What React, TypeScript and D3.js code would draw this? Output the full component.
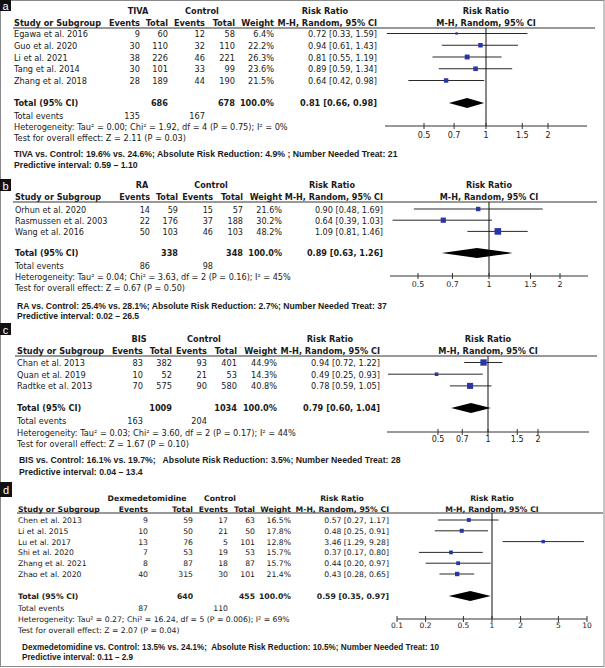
import React from "react";
import * as d3 from "d3";

// ---------- DATA ----------
const studiesA = ["Egawa et al. 2016", "Guo et al. 2020", "Li et al. 2021", "Tang et al. 2014", "Zhang et al. 2018"];
const expEventsA = [9, 30, 38, 30, 28];
const expTotalA = [60, 110, 226, 101, 189];
const ctlEventsA = [12, 32, 46, 33, 44];
const ctlTotalA = [58, 110, 221, 99, 190];
const weightA = [6.4, 22.2, 26.3, 23.6, 21.5];
const rrA = [0.72, 0.94, 0.81, 0.89, 0.64];
const loA = [0.33, 0.61, 0.55, 0.59, 0.42];
const hiA = [1.59, 1.43, 1.19, 1.34, 0.98];
const totalA = [686, 678, 135, 167, 0.81, 0.66, 0.98];
const ticksA = [0.5, 0.7, 1, 1.5, 2];

const studiesB = ["Orhun et al. 2020", "Rasmussen et al. 2003", "Wang et al. 2016"];
const expEventsB = [14, 22, 50];
const expTotalB = [59, 176, 103];
const ctlEventsB = [15, 37, 46];
const ctlTotalB = [57, 188, 103];
const weightB = [21.6, 30.2, 48.2];
const rrB = [0.9, 0.64, 1.09];
const loB = [0.48, 0.39, 0.81];
const hiB = [1.69, 1.03, 1.46];
const totalB = [338, 348, 86, 98, 0.89, 0.63, 1.26];
const ticksB = [0.5, 0.7, 1, 1.5, 2];

const studiesC = ["Chan et al. 2013", "Quan et al. 2019", "Radtke et al. 2013"];
const expEventsC = [83, 10, 70];
const expTotalC = [382, 52, 575];
const ctlEventsC = [93, 21, 90];
const ctlTotalC = [401, 53, 580];
const weightC = [44.9, 14.3, 40.8];
const rrC = [0.94, 0.49, 0.78];
const loC = [0.72, 0.25, 0.59];
const hiC = [1.22, 0.93, 1.05];
const totalC = [1009, 1034, 163, 204, 0.79, 0.6, 1.04];
const ticksC = [0.5, 0.7, 1, 1.5, 2];

const studiesD = ["Chen et al. 2013", "Li et al. 2015", "Lu et al. 2017", "Shi et al. 2020", "Zhang et al. 2021", "Zhao et al. 2020"];
const expEventsD = [9, 10, 13, 7, 8, 40];
const expTotalD = [59, 50, 76, 53, 87, 315];
const ctlEventsD = [17, 21, 5, 19, 18, 30];
const ctlTotalD = [63, 50, 101, 53, 87, 101];
const weightD = [16.5, 17.8, 12.8, 15.7, 15.7, 21.4];
const rrD = [0.57, 0.48, 3.46, 0.37, 0.44, 0.43];
const loD = [0.27, 0.25, 1.29, 0.17, 0.2, 0.28];
const hiD = [1.17, 0.91, 9.28, 0.8, 0.97, 0.65];
const totalD = [640, 455, 87, 110, 0.59, 0.35, 0.97];
const ticksD = [0.1, 0.2, 0.5, 1, 2, 5, 10];

const labels = ["a", "b", "c", "d"];
const groupNames = ["TIVA", "RA", "BIS", "Dexmedetomidine"];
const hetTexts = [
  "Heterogeneity: Tau² = 0.00; Chi² = 1.92, df = 4 (P = 0.75); I² = 0%",
  "Heterogeneity: Tau² = 0.04; Chi² = 3.63, df = 2 (P = 0.16); I² = 45%",
  "Heterogeneity: Tau² = 0.03; Chi² = 3.60, df = 2 (P = 0.17); I² = 44%",
  "Heterogeneity: Tau² = 0.27; Chi² = 16.24, df = 5 (P = 0.006); I² = 69%",
];
const testTexts = [
  "Test for overall effect: Z = 2.11 (P = 0.03)",
  "Test for overall effect: Z = 0.67 (P = 0.50)",
  "Test for overall effect: Z = 1.67 (P = 0.10)",
  "Test for overall effect: Z = 2.07 (P = 0.04)",
];
const summaryTexts = [
  "TIVA vs. Control: 19.6% vs. 24.6%; Absolute Risk Reduction: 4.9% ; Number Needed Treat: 21",
  "RA vs. Control: 25.4% vs. 28.1%; Absolute Risk Reduction: 2.7%; Number Needed Treat: 37",
  "BIS vs. Control: 16.1% vs. 19.7%;   Absolute Risk Reduction: 3.5%; Number Needed Treat: 28",
  "Dexmedetomidine vs. Control: 13.5% vs. 24.1%;  Absolute Risk Reduction: 10.5%; Number Needed Treat: 10",
];
const predTexts = [
  "Predictive interval: 0.59 – 1.10",
  "Predictive interval: 0.02 – 26.5",
  "Predictive interval: 0.04 – 13.4",
  "Predictive interval: 0.11 – 2.9",
];

// ---------- LAYOUT ----------
const layouts = [
  { fs: 8.2, box: [0, 0, 11, 11], h1: 11, h2: 23, line: 28, lineX: [13, 595], rowStart: 34, rowStep: 11.75, total: 103, tev: 116, het: 127, test: 138, sum: 154, pred: 165,
    studyX: 14, sumX: 14, cols: [140, 168, 205, 235, 274, 377], grpC: [138, 202], rrHdr: 325,
    scaleD: [0.5, 2], scaleR: [424, 548], axisX: [385, 587], axisY: 126, tickY: 134 },
  { fs: 8.1, box: [0, 179, 11, 12], h1: 185, h2: 197, line: 202, lineX: [13, 597], rowStart: 209.5, rowStep: 11.2, total: 253, tev: 266, het: 277, test: 288, sum: 306, pred: 316,
    studyX: 15, sumX: 17, cols: [150, 178, 213, 243, 282, 383], grpC: [142, 211], rrHdr: 332,
    scaleD: [0.5, 2], scaleR: [418, 560], axisX: [390, 588], axisY: 276, tickY: 283 },
  { fs: 8.2, box: [0, 323, 11, 12], h1: 339, h2: 351, line: 356, lineX: [15, 597], rowStart: 363, rowStep: 11.7, total: 408, tev: 421, het: 433, test: 444, sum: 460, pred: 472,
    studyX: 17, sumX: 19, cols: [143, 172, 207, 237, 277, 380], grpC: [139, 204], rrHdr: 330,
    scaleD: [0.5, 2], scaleR: [438, 538], axisX: [387, 589], axisY: 432, tickY: 438 },
  { fs: 7.7, box: [0, 482, 12, 15], h1: 498, h2: 509, line: 513, lineX: [17, 603], rowStart: 520.5, rowStep: 10.8, total: 596, tev: 608, het: 619, test: 630, sum: 647, pred: 657,
    studyX: 18, sumX: 22, cols: [148, 193, 228, 255, 291, 389], grpC: [147, 220], rrHdr: 342,
    scaleD: [0.1, 10], scaleR: [397, 587], axisX: [397, 587], axisY: 619, tickY: 624 },
];

const panels = [
  { studies: studiesA, ee: expEventsA, et: expTotalA, ce: ctlEventsA, ct: ctlTotalA, w: weightA, rr: rrA, lo: loA, hi: hiA, tot: totalA, ticks: ticksA },
  { studies: studiesB, ee: expEventsB, et: expTotalB, ce: ctlEventsB, ct: ctlTotalB, w: weightB, rr: rrB, lo: loB, hi: hiB, tot: totalB, ticks: ticksB },
  { studies: studiesC, ee: expEventsC, et: expTotalC, ce: ctlEventsC, ct: ctlTotalC, w: weightC, rr: rrC, lo: loC, hi: hiC, tot: totalC, ticks: ticksC },
  { studies: studiesD, ee: expEventsD, et: expTotalD, ce: ctlEventsD, ct: ctlTotalD, w: weightD, rr: rrD, lo: loD, hi: hiD, tot: totalD, ticks: ticksD },
];

const TXT = "#1a1a1a";
const FONT = "'DejaVu Sans', sans-serif";
const BFONT = "'Liberation Sans', Arial, sans-serif";
const BLUE = "#2a36a8";

function Panel({ p, L, i }: any) {
  const x = d3.scaleLog().domain(L.scaleD).range(L.scaleR);
  const rowY = (k: number) => L.rowStart + k * L.rowStep;
  const [cEE, cET, cCE, cCT, cW, cRR] = L.cols;
  const FS = L.fs;
  const t = (s: string, xx: number, yy: number, anchor = "start", bold = false, extra: any = {}) => (
    <text x={xx} y={yy} textAnchor={anchor} dominantBaseline="central" fontFamily={FONT} fontSize={FS}
      fontWeight={bold ? "bold" : "normal"} fill={TXT} style={{ whiteSpace: "pre" }} {...extra}>{s}</text>
  );
  const fmtCI = (r: number, l: number, h: number) => `${r.toFixed(2)} [${l.toFixed(2)}, ${h.toFixed(2)}]`;
  const [tET, tCT, tEE, tCE, tRR, tLo, tHi] = p.tot;
  const dx0 = x(tLo), dx1 = x(tHi), dxm = x(tRR), dy = L.total;
  const [bx, by, bw, bh] = L.box;
  const fcx = x(1);
  const bfs = 8.7 * (FS / 8.2);
  return (
    <g>
      <rect x={bx} y={by} width={bw} height={bh} fill="#111" />
      <text x={bx + bw / 2} y={by + bh / 2 + 0.5} textAnchor="middle" dominantBaseline="central" fontFamily={BFONT} fontSize={11} fill="#fff">{labels[i]}</text>
      {/* headers */}
      {t(groupNames[i], L.grpC[0], L.h1, "middle", true)}
      {t("Control", L.grpC[1], L.h1, "middle", true)}
      {t("Risk Ratio", L.rrHdr, L.h1, "middle", true)}
      {t("Risk Ratio", fcx, L.h1, "middle", true)}
      {t("Study or Subgroup", L.studyX, L.h2, "start", true)}
      {t("Events", cEE, L.h2, "end", true)}
      {t("Total", cET, L.h2, "end", true)}
      {t("Events", cCE, L.h2, "end", true)}
      {t("Total", cCT, L.h2, "end", true)}
      {t("Weight", cW, L.h2, "end", true)}
      {t("M-H, Random, 95% CI", cRR, L.h2, "end", true)}
      {t("M-H, Random, 95% CI", fcx, L.h2, "middle", true)}
      <line x1={L.lineX[0]} x2={L.lineX[1]} y1={L.line} y2={L.line} stroke="#333" strokeWidth={1} />
      {/* rows */}
      {p.studies.map((s: string, k: number) => {
        const y = rowY(k);
        const sz = Math.max(2, Math.sqrt(p.w[k]) * 0.95);
        return (
          <g key={k}>
            {t(s, L.studyX, y)}
            {t(String(p.ee[k]), cEE, y, "end")}
            {t(String(p.et[k]), cET, y, "end")}
            {t(String(p.ce[k]), cCE, y, "end")}
            {t(String(p.ct[k]), cCT, y, "end")}
            {t(p.w[k].toFixed(1) + "%", cW, y, "end")}
            {t(fmtCI(p.rr[k], p.lo[k], p.hi[k]), cRR, y, "end")}
            <line x1={x(p.lo[k])} x2={x(p.hi[k])} y1={y - 0.5} y2={y - 0.5} stroke="#2a2a2a" strokeWidth={1} />
            <rect x={x(p.rr[k]) - sz / 2} y={y - 0.5 - sz / 2} width={sz} height={sz} fill={BLUE} />
          </g>
        );
      })}
      {/* total */}
      {t("Total (95% CI)", L.studyX, L.total, "start", true)}
      {t(String(tET), cET, L.total, "end", true)}
      {t(String(tCT), cCT, L.total, "end", true)}
      {t("100.0%", cW, L.total, "end", true)}
      {t(fmtCI(tRR, tLo, tHi), cRR, L.total, "end", true)}
      <path d={`M${dx0},${dy} L${dxm},${dy - 5} L${dx1},${dy} L${dxm},${dy + 5} Z`} fill="#000" />
      {t("Total events", L.studyX, L.tev)}
      {t(String(tEE), cEE, L.tev, "end")}
      {t(String(tCE), cCE, L.tev, "end")}
      {t(hetTexts[i], L.studyX, L.het)}
      {t(testTexts[i], L.studyX, L.test)}
      <text x={L.sumX} y={L.sum} dominantBaseline="central" fontFamily={BFONT} fontSize={bfs} fontWeight="bold" fill={TXT} style={{ whiteSpace: "pre" }}>{summaryTexts[i]}</text>
      <text x={L.sumX} y={L.pred} dominantBaseline="central" fontFamily={BFONT} fontSize={bfs} fontWeight="bold" fill={TXT} style={{ whiteSpace: "pre" }}>{predTexts[i]}</text>
      {/* forest axis */}
      <line x1={fcx} x2={fcx} y1={L.line} y2={L.axisY} stroke="#111" strokeWidth={1} />
      <line x1={L.axisX[0]} x2={L.axisX[1]} y1={L.axisY} y2={L.axisY} stroke="#333" strokeWidth={1} />
      {p.ticks.map((v: number, k: number) => (
        <g key={k}>
          <line x1={x(v)} x2={x(v)} y1={L.axisY - 3} y2={L.axisY + 3} stroke="#333" strokeWidth={1} />
          {t(String(v), x(v), L.tickY + 1, "middle", false, { fontSize: FS * 0.98 })}
        </g>
      ))}
    </g>
  );
}

export default function App() {
  return (
    <svg width={605} height={668} style={{ position: "absolute", left: 0, top: 0, background: "#fff" }}>
      <rect x={0} y={0} width={605} height={668} fill="#fff" />
      <rect x={0.5} y={0.5} width={603.5} height={666} fill="none" stroke="#8a8a8a" strokeWidth={1} />
      {panels.map((p, i) => (
        <Panel key={i} p={p} L={layouts[i]} i={i} />
      ))}
    </svg>
  );
}
